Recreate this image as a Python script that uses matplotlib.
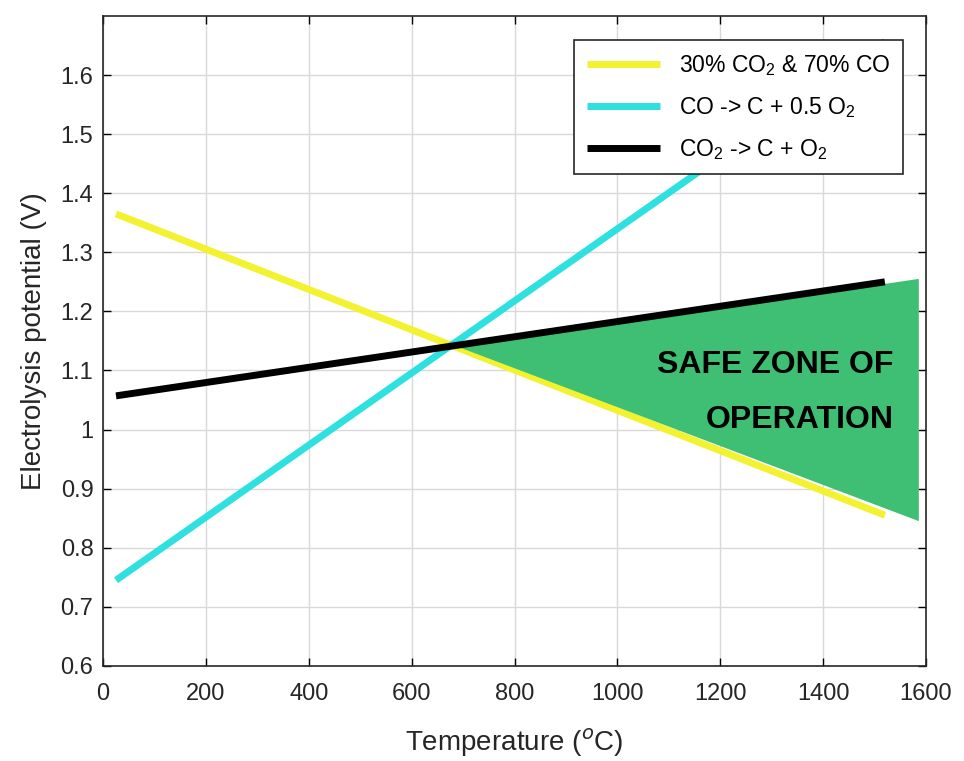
import matplotlib
matplotlib.use("Agg")
import matplotlib.pyplot as plt
from matplotlib.patches import Polygon

plt.rcParams['font.family'] = ['Liberation Sans', 'DejaVu Sans']
plt.rcParams['mathtext.fontset'] = 'custom'
plt.rcParams['mathtext.rm'] = 'Liberation Sans'

# data
temps = [25, 1520]
mix_30_70 = [1.365, 0.855]      # 30% CO2 & 70% CO
co_to_c = [0.745, 1.657]        # CO -> C + 0.5 O2
co2_to_c = [1.057, 1.250]       # CO2 -> C + O2

safe_x = [690, 1586, 1586]
safe_y = [1.140, 1.255, 0.845]

x_ticks = [0, 200, 400, 600, 800, 1000, 1200, 1400, 1600]
y_ticks = [0.6, 0.7, 0.8, 0.9, 1.0, 1.1, 1.2, 1.3, 1.4, 1.5, 1.6]
y_labels = ['0.6', '0.7', '0.8', '0.9', '1', '1.1', '1.2', '1.3', '1.4', '1.5', '1.6']

fig = plt.figure(figsize=(9.64, 7.61), dpi=100)
ax = fig.add_axes([0.107, 0.125, 0.8536, 0.854])

ax.plot(temps, mix_30_70, color='#f2f230', lw=5, solid_capstyle='butt',
        label='30% CO$_2$ & 70% CO', zorder=3)
ax.plot(temps, co_to_c, color='#2ee0e0', lw=5, solid_capstyle='butt',
        label='CO -> C + 0.5 O$_2$', zorder=3)
ax.add_patch(Polygon(list(zip(safe_x, safe_y)), closed=True,
                     facecolor='#3fbf74', edgecolor='none', zorder=4))
ax.plot(temps, co2_to_c, color='black', lw=5, solid_capstyle='butt',
        label='CO$_2$ -> C + O$_2$', zorder=5)

ax.text(1537, 1.109, 'SAFE ZONE OF', ha='right', va='center',
        fontsize=23, fontweight='bold', zorder=6)
ax.text(1537, 1.016, 'OPERATION', ha='right', va='center',
        fontsize=23, fontweight='bold', zorder=6)

ax.set_xlim(0, 1600)
ax.set_ylim(0.6, 1.7)
ax.set_xticks(x_ticks)
ax.set_yticks(y_ticks)
ax.set_yticklabels(y_labels)
ax.grid(True, color='#d9d9d9', lw=1)
ax.set_axisbelow(True)
ax.tick_params(direction='in', top=True, right=True, length=6,
               labelsize=17, labelcolor='#262626', width=1)
ax.tick_params(axis='x', pad=12)
ax.tick_params(axis='y', pad=7)
for s in ax.spines.values():
    s.set_color('#262626')
    s.set_linewidth(1.2)

ax.set_xlabel('Temperature ($^{o}$C)', fontsize=20, color='#262626')
ax.set_ylabel('Electrolysis potential (V)', fontsize=20, color='#262626')
ax.xaxis.set_label_coords(0.5, -0.094)
ax.yaxis.set_label_coords(-0.068, 0.5)

leg = ax.legend(loc='upper right', bbox_to_anchor=(0.972, 0.963),
                borderaxespad=0, fontsize=16.5, handlelength=3.2,
                frameon=True, fancybox=False, framealpha=1,
                borderpad=0.55, labelspacing=0.75)
leg.get_frame().set_edgecolor('#262626')
leg.get_frame().set_linewidth(1.2)
leg.set_zorder(10)

fig.savefig('out.png', dpi=100)
